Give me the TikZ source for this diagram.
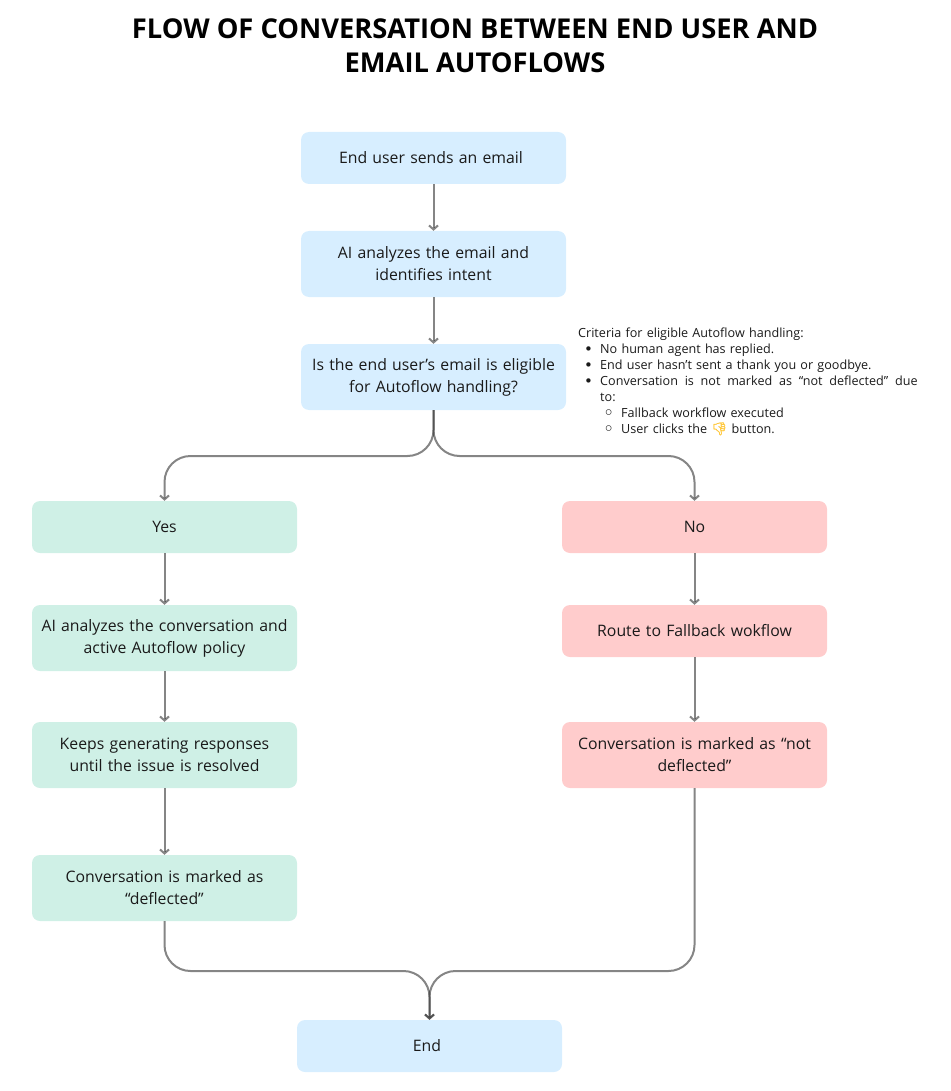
\documentclass[tikz,border=0pt]{standalone}
\usepackage{fontspec}
\setmainfont{Open Sans}
\newfontfamily\emojifont[FakeBold=2]{Noto Emoji}
\newfontfamily\bulletfont{DejaVu Sans}
\usetikzlibrary{arrows.meta}
\definecolor{bluebox}{HTML}{D7EEFF}
\definecolor{greenbox}{HTML}{CFF0E6}
\definecolor{redbox}{HTML}{FFCCCC}
\definecolor{inkc}{HTML}{1A1A1A}
\definecolor{wirec}{HTML}{333333}
\definecolor{thumbc}{HTML}{FFC83D}
\newcommand{\critone}[1]{\par\leftskip=22pt\noindent\llap{\makebox[16pt][l]{\raisebox{-.6pt}{\bulletfont\fontsize{15}{15}\selectfont •}}}#1}
\newcommand{\crittwo}[1]{\par\leftskip=43pt\noindent\llap{\makebox[17.5pt][l]{\raisebox{-1.2pt}{\bulletfont\fontsize{16}{16}\bfseries\selectfont ◦}}}#1}
\tikzset{
  x=1pt,y=-1pt,
  flowbox/.style={rounded corners=8pt,minimum width=265pt,inner sep=0pt,align=center,text width=258pt,font=\fontsize{15.8}{22}\selectfont,text=inkc},
  bluefill/.style={flowbox,fill=bluebox},
  greenfill/.style={flowbox,fill=greenbox},
  redfill/.style={flowbox,fill=redbox},
  shortbox/.style={minimum height=52pt},
  tallbox/.style={minimum height=66pt},
  wire/.style={draw=wirec,draw opacity=.6,line width=2pt,-{Straight Barb[length=4pt,width=9pt,line width=2pt]}},
  bendwire/.style={wire,rounded corners=26pt},
}
\begin{document}
\begin{tikzpicture}
\useasboundingbox (0,0) rectangle (950,1091);
\node[font=\fontsize{27.3}{34}\bfseries\selectfont,align=center,text=black] (title) at (475,46) {FLOW OF CONVERSATION BETWEEN END USER AND\\EMAIL AUTOFLOWS};
\node[bluefill,shortbox] (start) at (433.5,158) {End user sends an email\hspace*{5pt}};
\node[bluefill,tallbox] (analyze) at (433.5,264) {AI analyzes the email and\\identifies intent};
\node[bluefill,tallbox] (eligible) at (433.5,377) {Is the end user’s email is eligible\\for Autoflow handling?};
\node[greenfill,shortbox] (yes) at (164.5,527) {Yes};
\node[greenfill,tallbox] (policy) at (164.5,638) {AI analyzes the conversation and\\active Autoflow policy};
\node[greenfill,tallbox] (keeps) at (164.5,755) {Keeps generating responses\\until the issue is resolved};
\node[greenfill,tallbox] (deflected) at (164.5,888) {Conversation is marked as\\“deflected”};
\node[redfill,shortbox] (no) at (694.5,527) {No};
\node[redfill,shortbox] (route) at (694.5,631) {Route to Fallback wokflow};
\node[redfill,tallbox] (notdef) at (694.5,755) {Conversation is marked as “not\\deflected”};
\node[bluefill,shortbox] (end) at (429.5,1046) {End\hspace*{5pt}};
\node[anchor=north west,inner sep=0pt,text width=340pt,font=\fontsize{12.6}{15.9}\selectfont,text=inkc] (criteria) at (578,328) {\hyphenpenalty=10000\rightskip=0pt\parfillskip=0pt plus 1fil\emergencystretch=0pt\tolerance=9999
Criteria for eligible Autoflow handling:
\critone{No human agent has replied.}
\critone{End user hasn't sent a thank you or goodbye.}
\critone{{\spaceskip=6.75pt Conversation is not marked as “not deflected” due}\linebreak to:}
\crittwo{Fallback workflow executed}
\crittwo{User clicks the {\emojifont\textcolor{thumbc}{\symbol{"1F44E}}} button.}\par};
\draw[wire] (start) -- (analyze);
\draw[wire] (analyze) -- (eligible);
\draw[wire] (yes) -- (policy);
\draw[wire] (policy) -- (keeps);
\draw[wire] (keeps) -- (deflected);
\draw[wire] (no) -- (route);
\draw[wire] (route) -- (notdef);
\draw[bendwire] (eligible.south) -- (eligible.south |- 0,456) -- (yes.north |- 0,456) -- (yes.north);
\draw[bendwire] (eligible.south) -- (eligible.south |- 0,456) -- (no.north |- 0,456) -- (no.north);
\draw[bendwire] (deflected.south) -- (deflected.south |- 0,971) -- (end.north |- 0,971) -- (end.north);
\draw[bendwire] (notdef.south) -- (notdef.south |- 0,971) -- (end.north |- 0,971) -- (end.north);
\end{tikzpicture}
\end{document}
